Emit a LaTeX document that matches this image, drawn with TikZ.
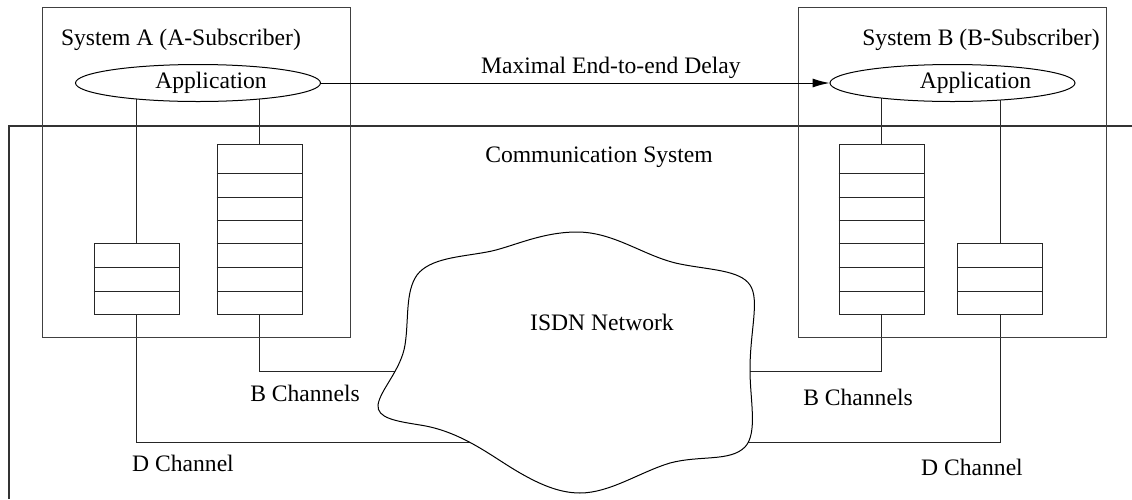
\documentclass[tikz,border=0pt]{standalone}
\usepackage{fontspec}
\setmainfont{Liberation Serif}
\usetikzlibrary{shapes.geometric,arrows.meta,backgrounds}
\begin{document}
\begin{tikzpicture}[x=0.5pt,y=-0.5pt,
  font=\fontsize{11.8}{14}\selectfont,
  wire/.style={line width=0.5pt, draw=black!85},
  sysbox/.style={draw=black!75, line width=0.5pt, minimum width=154pt, minimum height=165pt, inner sep=0},
  app/.style={draw, ellipse, fill=white, line width=0.5pt, minimum width=122.5pt, minimum height=18.5pt, inner sep=0},
  queue/.style={draw=black!85, fill=white, line width=0.5pt, minimum width=42.5pt, inner sep=0},
  lbl/.style={inner sep=0},
  commline/.style={line width=1pt, draw=black!80}]
\useasboundingbox (0,0) rectangle (1132,499);

% communication system boundary
\draw[commline] (1132,126) -- (9,126) -- (9,499);

% system boxes
\node[sysbox] (sysA) at (196,172) {};
\node[sysbox] (sysB) at (952.5,172) {};
\node[lbl] (sysAlbl) at (181,40) {System A (A-Subscriber)};
\node[lbl] (sysBlbl) at (981,40) {System B (B-Subscriber)};

% applications
\node[app] (appA) at (198,83) {\hspace*{13pt}Application};
\node[app] (appB) at (952.5,83) {\hspace*{23pt}Application};

% queues
\node[queue, minimum height=35.5pt] (qaD) at (136.5,278.5) {};
\node[queue, minimum height=85pt] (qaB) at (259.5,229) {};
\node[queue, minimum height=85pt] (qbB) at (881.5,229) {};
\node[queue, minimum height=35.5pt] (qbD) at (1000,278.5) {};
\foreach \yy in {267,291} {
  \draw[wire] (qaD.west |- 0,\yy) -- (qaD.east |- 0,\yy);
  \draw[wire] (qbD.west |- 0,\yy) -- (qbD.east |- 0,\yy);
}
\foreach \yy in {173,197,220,243,267,291} {
  \draw[wire] (qaB.west |- 0,\yy) -- (qaB.east |- 0,\yy);
  \draw[wire] (qbB.west |- 0,\yy) -- (qbB.east |- 0,\yy);
}

% coordinates inside the network cloud
\coordinate (netBL) at (520,371);
\coordinate (netDL) at (560,442);
\coordinate (netBR) at (640,371);
\coordinate (netDR) at (640,442);

% connectors behind the shapes
\begin{scope}[on background layer]
\draw[wire] (qaD.north) -- (qaD.north |- appA.center);
\draw[wire] (qaB.north) -- (qaB.north |- appA.center);
\draw[wire] (qbB.north) -- (qbB.north |- appB.center);
\draw[wire] (qbD.north) -- (qbD.north |- appB.center);
\draw[wire] (qaB.south) |- (netBL);
\draw[wire] (qaD.south) |- (netDL);
\draw[wire] (qbB.south) |- (netBR);
\draw[wire] (qbD.south) |- (netDR);
\end{scope}

% ISDN cloud
\draw[line width=0.5pt, fill=white] (577,232)
  .. controls (540,232) and (510,248) .. (487,252)
  .. controls (460,257) and (430,258) .. (417,275)
  .. controls (405,292) and (409,320) .. (405,345)
  .. controls (401,370) and (380,390) .. (378,405)
  .. controls (377,418) and (395,421) .. (420,425)
  .. controls (460,431) and (490,455) .. (515,470)
  .. controls (540,485) and (560,493) .. (580,493)
  .. controls (610,493) and (640,472) .. (670,463)
  .. controls (700,455) and (730,462) .. (745,447)
  .. controls (758,433) and (750,400) .. (750,370)
  .. controls (750,330) and (760,300) .. (750,285)
  .. controls (740,270) and (710,270) .. (680,264)
  .. controls (645,257) and (615,232) .. (577,232) -- cycle;
\node[lbl] (isdn) at (602,322) {ISDN Network};

% delay arrow
\draw[wire, draw=black, -{Latex[length=8.5pt,width=4.5pt]}] (appA.east) -- (appB.west)
  node[pos=0.57, above=2pt, lbl] {Maximal End-to-end Delay};

% labels
\node[lbl] (commlbl) at (599,157) {Communication System};
\node[lbl] (bchA) at (305,393) {B Channels};
\node[lbl] (bchB) at (858,397) {B Channels};
\node[lbl] (dchA) at (183,463) {D Channel};
\node[lbl] (dchB) at (972,467) {D Channel};
\end{tikzpicture}
\end{document}
